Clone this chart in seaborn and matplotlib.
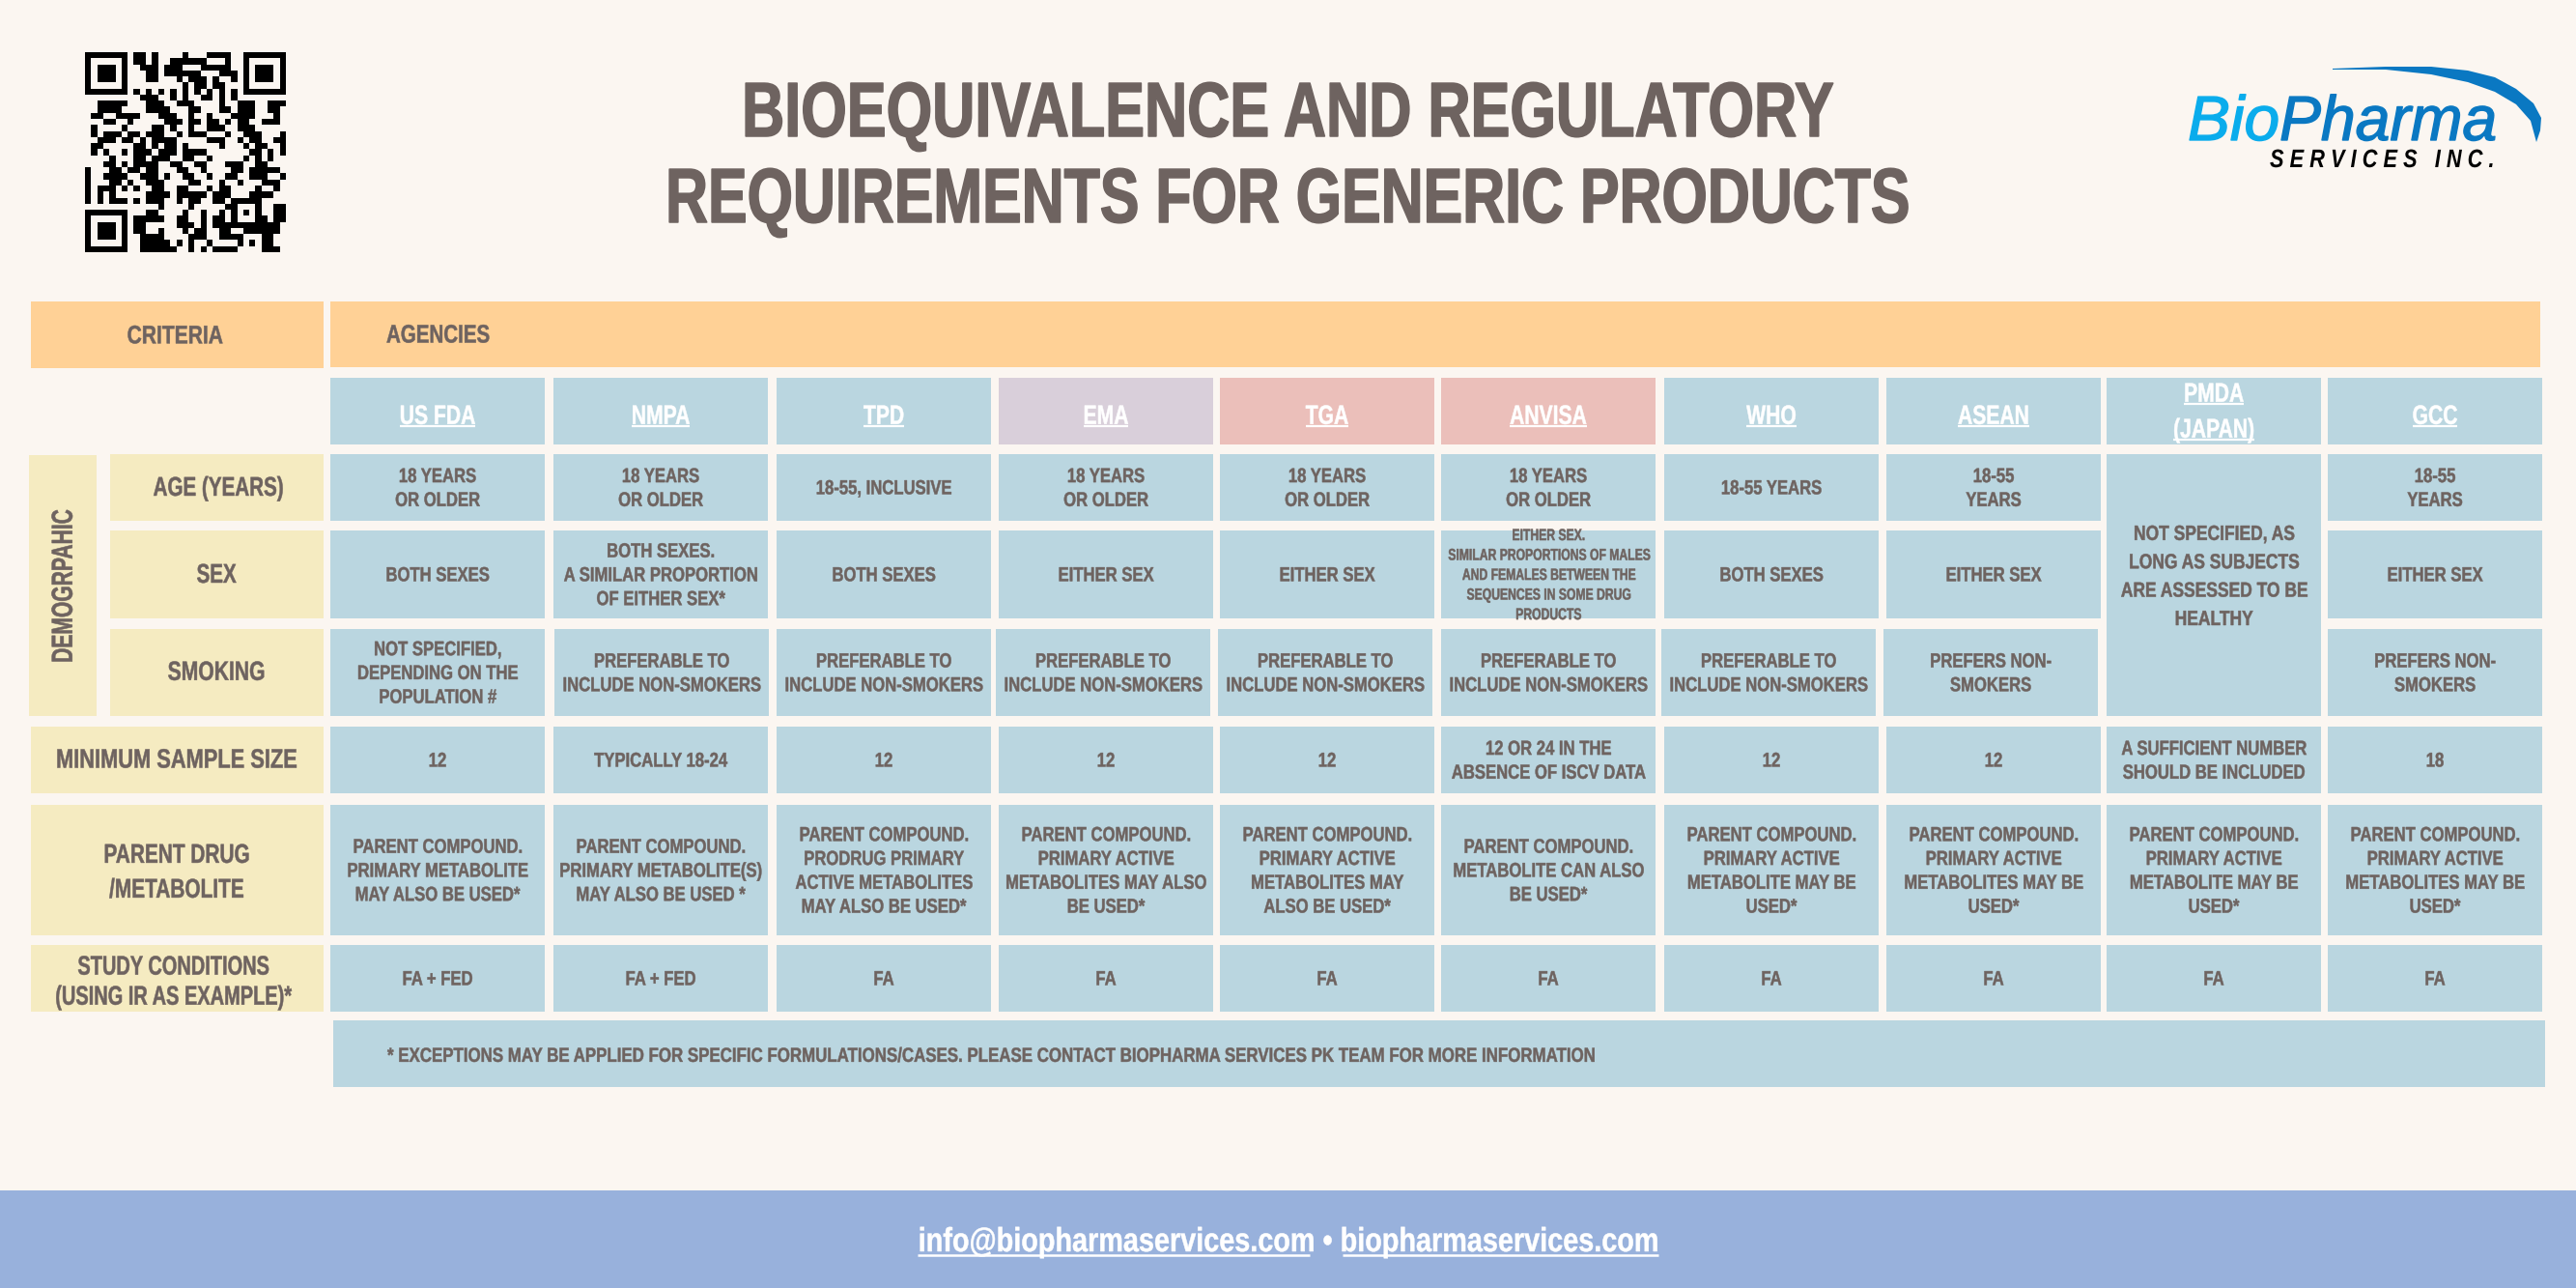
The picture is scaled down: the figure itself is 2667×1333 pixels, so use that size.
import numpy as np
import matplotlib
matplotlib.use("Agg")
import matplotlib.pyplot as plt
import matplotlib.patheffects as pe
from matplotlib.colors import ListedColormap
from matplotlib.patches import Rectangle
from matplotlib.transforms import Affine2D
import seaborn as sns

# =====================
# Table content
# =====================
agencies = ["US FDA", "NMPA", "TPD", "EMA", "TGA", "ANVISA", "WHO", "ASEAN", "PMDA\n(JAPAN)", "GCC"]
age_vals = ["18 YEARS\nOR OLDER", "18 YEARS\nOR OLDER", "18-55, INCLUSIVE", "18 YEARS\nOR OLDER", "18 YEARS\nOR OLDER",
            "18 YEARS\nOR OLDER", "18-55 YEARS", "18-55\nYEARS", None, "18-55\nYEARS"]
sex_vals = ["BOTH SEXES", "BOTH SEXES.\nA SIMILAR PROPORTION\nOF EITHER SEX*", "BOTH SEXES", "EITHER SEX", "EITHER SEX",
            "EITHER SEX.\nSIMILAR PROPORTIONS OF MALES\nAND FEMALES BETWEEN THE\nSEQUENCES IN SOME DRUG\nPRODUCTS",
            "BOTH SEXES", "EITHER SEX", None, "EITHER SEX"]
smoking_vals = ["NOT SPECIFIED,\nDEPENDING ON THE\nPOPULATION #", "PREFERABLE TO\nINCLUDE NON-SMOKERS",
                "PREFERABLE TO\nINCLUDE NON-SMOKERS", "PREFERABLE TO\nINCLUDE NON-SMOKERS",
                "PREFERABLE TO\nINCLUDE NON-SMOKERS", "PREFERABLE TO\nINCLUDE NON-SMOKERS",
                "PREFERABLE TO\nINCLUDE NON-SMOKERS", "PREFERS NON-\nSMOKERS", None, "PREFERS NON-\nSMOKERS"]
pmda_demographic = "NOT SPECIFIED, AS\nLONG AS SUBJECTS\nARE ASSESSED TO BE\nHEALTHY"
sample_vals = ["12", "TYPICALLY 18-24", "12", "12", "12", "12 OR 24 IN THE\nABSENCE OF ISCV DATA", "12", "12",
               "A SUFFICIENT NUMBER\nSHOULD BE INCLUDED", "18"]
parent_vals = ["PARENT COMPOUND.\nPRIMARY METABOLITE\nMAY ALSO BE USED*",
               "PARENT COMPOUND.\nPRIMARY METABOLITE(S)\nMAY ALSO BE USED *",
               "PARENT COMPOUND.\nPRODRUG PRIMARY\nACTIVE METABOLITES\nMAY ALSO BE USED*",
               "PARENT COMPOUND.\nPRIMARY ACTIVE\nMETABOLITES MAY ALSO\nBE USED*",
               "PARENT COMPOUND.\nPRIMARY ACTIVE\nMETABOLITES MAY\nALSO BE USED*",
               "PARENT COMPOUND.\nMETABOLITE CAN ALSO\nBE USED*",
               "PARENT COMPOUND.\nPRIMARY ACTIVE\nMETABOLITE MAY BE\nUSED*",
               "PARENT COMPOUND.\nPRIMARY ACTIVE\nMETABOLITES MAY BE\nUSED*",
               "PARENT COMPOUND.\nPRIMARY ACTIVE\nMETABOLITE MAY BE\nUSED*",
               "PARENT COMPOUND.\nPRIMARY ACTIVE\nMETABOLITES MAY BE\nUSED*"]
study_vals = ["FA + FED", "FA + FED", "FA", "FA", "FA", "FA", "FA", "FA", "FA", "FA"]
note_text = "* EXCEPTIONS MAY BE APPLIED FOR SPECIFIC FORMULATIONS/CASES. PLEASE CONTACT BIOPHARMA SERVICES PK TEAM FOR MORE INFORMATION"
title_lines = ["BIOEQUIVALENCE AND REGULATORY", "REQUIREMENTS FOR GENERIC PRODUCTS"]

# QR modules, 1 = black
qr_top = ["11010000100011110", "11010011111100010", "01110111000111110", "00110111111000111",
          "00110001011101001", "00000000101101100", "10101010101010101", "01110010100110101"]
qr_middle = ["00111110001" "11001110000" "10011100111",
             "00111100001" "11100011000" "11011100110",
             "01100111100" "01110010010" "00111100010",
             "00011001000" "00111011011" "01011001110",
             "01000010000" "11010010011" "10011100000",
             "01011101101" "11001011100" "01001110001",
             "00111011010" "11110000011" "10010110011",
             "01100000110" "10110100000" "10001011001",
             "01010010111" "01110111100" "00000110101",
             "00001000110" "11100110010" "00001010100",
             "00011010111" "10011001100" "01110011000",
             "10001101101" "10001100100" "00110111110",
             "10011110011" "10100110010" "01100111001",
             "10001101001" "11000011000" "10010001110",
             "10111010100" "11001100010" "11000010010",
             "10101000001" "11101111101" "11000111100",
             "10101110101" "11001011001" "10111110000"]
qr_bottom = ["0000100001000001" "10001" "0011", "0011000010010010" "10101" "0011",
             "1111100110010110" "10001" "1011", "1100000111010111" "11111" "1110",
             "1100100010110011" "00111" "1110", "0111100001110011" "11000" "1100",
             "0111110101001000" "01010" "1100", "0111111001010111" "10000" "1110"]

# =====================
# Layout (pixels of the 2667x1333 picture)
# =====================
W, H = 2667, 1333
col_left = [342, 573, 804, 1034, 1263, 1492, 1723, 1953, 2181, 2410]
smoking_left = [342, 574, 804, 1031, 1261, 1492, 1720, 1950, 2181, 2410]
col_w = 222
BG, ORANGE, CREAM, BLUE, FOOT = "#FBF6F1", "#FFD196", "#F5EBC1", "#BAD6E0", "#98B1DC"
INK = "#6E6360"
header_fill = [BLUE, BLUE, BLUE, "#D9CFDA", "#EBBFBA", "#EBBFBA", BLUE, BLUE, BLUE, BLUE]

sns.set_theme(style="white")
plt.rcParams["font.family"] = ["Liberation Sans"]

fig = plt.figure(figsize=(W / 100, H / 100), dpi=100, facecolor=BG)
ax = fig.add_axes([0, 0, 1, 1])
ax.set_xlim(0, W)
ax.set_ylim(H, 0)
ax.axis("off")
renderer = fig.canvas.get_renderer()


class Tall(pe.AbstractPathEffect):
    # stretches glyphs upward from the baseline, the fonts here have no bold condensed face
    def __init__(self, sy, heavy=0.0):
        super().__init__()
        self.sy, self.heavy = sy, heavy

    def draw_path(self, rend, gc, tpath, affine, rgbFace=None):
        t = Affine2D().scale(1, self.sy) + affine
        gc0 = rend.new_gc()
        gc0.copy_properties(gc)
        gc0.set_linewidth(self.heavy)
        gc0.set_foreground(rgbFace)
        rend.draw_path(gc0, tpath, t, rgbFace)
        gc0.restore()


def box(x0, y0, x1, y1, color):
    ax.add_patch(Rectangle((x0, y0), x1 - x0, y1 - y0, facecolor=color, edgecolor="none"))


def label(x, y, s, size=15, sx=0.80, width=None, color=INK, ha="center", va="center", ls=1.45,
          weight="bold", heavy=0.35, **kw):
    # size is the height wanted, the font is set smaller so that the width comes out at sx of it
    t = ax.text(x, y, s, fontsize=size, color=color, ha=ha, va=va, weight=weight, linespacing=ls,
                multialignment="center", **kw)
    vertical = kw.get("rotation") == 90
    if width is not None:
        full = t.get_window_extent(renderer)
        sx = width / (full.height if vertical else full.width)
    t.set_fontsize(size * sx)
    t.set_linespacing(ls / sx)
    t.set_path_effects([Tall(1 / sx, heavy)])
    if va == "center":
        lift = 0.69 * (size * 100 / 72) * (1 - sx) / 2
        if vertical:
            t.set_x(x + lift)
        else:
            t.set_y(y + 2 + lift)
    return t


def underlined(x, y, s, size=20, sx=0.76):
    t = label(x, y, s, size=size, sx=sx, color="white")
    w = t.get_window_extent(renderer).width
    ax.plot([x - w / 2, x + w / 2], [y + 12, y + 12], color="white", lw=1.6, solid_capstyle="butt")


# =====================
# Title, QR and logo
# =====================
label(1333.5, 141, title_lines[0], size=57.5, width=1131, va="baseline", heavy=1.1)
label(1334, 230, title_lines[1], size=57.5, width=1289, va="baseline", heavy=1.1)

qr_rows = []
for i, row in enumerate(qr_top):
    finder = ["1111111", "1000001", "1011101", "1011101", "1011101", "1000001", "1111111", "0000000"][i]
    qr_rows.append(finder + "0" + row + "0" + finder)
qr_rows += qr_middle
for i, row in enumerate(qr_bottom):
    finder = ["0000000", "1111111", "1000001", "1011101", "1011101", "1011101", "1000001", "1111111"][i]
    qr_rows.append(finder + "0" + row)
qr = np.array([[int(c) for c in row] for row in qr_rows])
ax_qr = fig.add_axes([88 / W, 1 - 261 / H, 208 / W, 207 / H])
sns.heatmap(qr, ax=ax_qr, cmap=ListedColormap([BG, "black"]), cbar=False, vmin=0, vmax=1,
            xticklabels=False, yticklabels=False)

label(2265, 145, "Bio", size=47, width=95, ha="left", va="baseline", color="#0AACEC", style="italic", weight="normal", heavy=1.0)
label(2360, 145, "Pharma", size=47, width=225, ha="left", va="baseline", color="#0A78C2", style="italic", weight="normal", heavy=1.0)
label(2350, 173, "S E R V I C E S   I N C .", size=19, width=233, ha="left", va="baseline", color="black", style="italic", heavy=0)
swoosh_x = [2415, 2470, 2517, 2555, 2583, 2605, 2623, 2631, 2630, 2626, 2620, 2605, 2583, 2555, 2517, 2470, 2415]
swoosh_y = [71, 69, 69, 73, 80, 92, 107, 122, 135, 147, 125, 108, 95, 85, 77, 72, 72]
ax.fill(swoosh_x, swoosh_y, color="#0A78C2", lw=0)

# =====================
# Table
# =====================
box(32, 312, 335, 381, ORANGE)
box(342, 312, 2630, 380, ORANGE)
label(181, 346, "CRITERIA", size=19, width=99)
label(400, 345, "AGENCIES", size=19, width=107, ha="left")

for i, name in enumerate(agencies):
    box(col_left[i], 391, col_left[i] + col_w, 460, header_fill[i])
    cx = col_left[i] + col_w / 2
    if "\n" in name:
        first, second = name.split("\n")
        underlined(cx, 406, first)
        underlined(cx, 443, second)
    else:
        underlined(cx, 429, name)

rows = [(470, 539, age_vals, col_left), (549, 640, sex_vals, col_left), (651, 741, smoking_vals, smoking_left),
        (752, 821, sample_vals, col_left), (833, 968, parent_vals, col_left), (978, 1047, study_vals, col_left)]
for y0, y1, vals, lefts in rows:
    for i, s in enumerate(vals):
        if s is None:
            continue
        box(lefts[i], y0, lefts[i] + col_w, y1, BLUE)
        small = s.count("\n") == 4
        label(lefts[i] + col_w / 2, (y0 + y1) / 2 - 1, s, size=12 if small else 15, sx=0.73 if small else 0.80,
              ls=1.42 if small else 1.45)

box(col_left[8], 470, col_left[8] + col_w, 741, BLUE)
label(col_left[8] + col_w / 2, 595, pmda_demographic, size=15.5, sx=0.81, ls=1.78)

box(30, 471, 100, 741, CREAM)
label(66, 607, "DEMOGRPAHIC", size=22, width=158, rotation=90, heavy=0.4)
box(114, 470, 335, 539, CREAM)
box(114, 549, 335, 640, CREAM)
box(114, 651, 335, 741, CREAM)
label(226, 503, "AGE (YEARS)", size=20, width=135)
label(224, 593, "SEX", size=20, sx=0.74)
label(224, 694, "SMOKING", size=20, sx=0.76)

box(32, 752, 335, 821, CREAM)
box(32, 833, 335, 968, CREAM)
box(32, 978, 335, 1047, CREAM)
label(183, 785, "MINIMUM SAMPLE SIZE", size=20, width=250)
label(183, 901, "PARENT DRUG\n/METABOLITE", size=20, sx=0.75, ls=1.6)
label(180, 1014, "STUDY CONDITIONS\n(USING IR AS EXAMPLE)*", size=20, sx=0.72, ls=1.3)

box(345, 1056, 2635, 1125, BLUE)
label(401, 1091, note_text, size=15, width=1252, ha="left")

# =====================
# Footer
# =====================
box(0, 1232, W, H, FOOT)
label(1333.5, 1295, "info@biopharmaservices.com \u2022 biopharmaservices.com", size=25, width=767, color="white", va="baseline")
ax.plot([950, 1356], [1298.5, 1298.5], color="white", lw=1.8, solid_capstyle="butt")
ax.plot([1390, 1717], [1298.5, 1298.5], color="white", lw=1.8, solid_capstyle="butt")

fig.savefig("out.png", dpi=100, facecolor=BG)
